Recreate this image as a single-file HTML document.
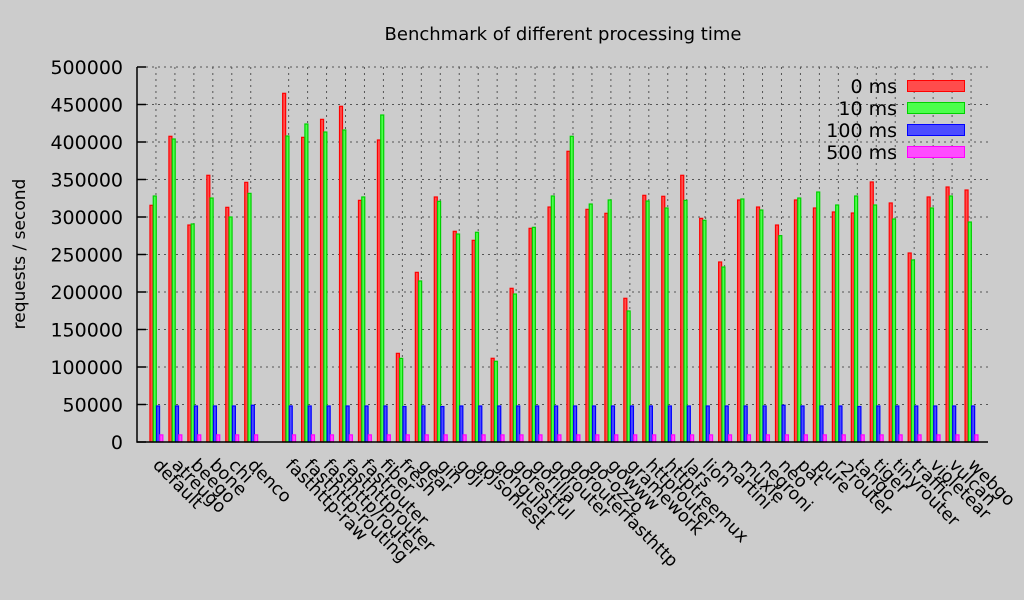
<!DOCTYPE html>
<html><head><meta charset="utf-8"><style>
html,body{margin:0;padding:0;background:#cccccc;}
svg{display:block;font-family:"DejaVu Sans","Liberation Sans",sans-serif;}
</style></head><body>
<svg id="chart" width="1024" height="600" viewBox="0 0 1024 600">
<rect x="0" y="0" width="1024" height="600" fill="#cccccc"/>
<text x="563" y="40" font-size="18" text-anchor="middle" fill="#000">Benchmark of different processing time</text>
<text transform="translate(25,254) rotate(-90)" font-size="17" text-anchor="middle" fill="#000">requests / second</text>
<g id="grid"></g>
<g id="bars"></g>
<g id="axes"></g>
<g id="ylabels"></g>
<g id="xlabels"></g>
<g id="legend"></g>
</svg>
<script>
const categories = ["default","atreugo","beego","bone","chi","denco","","fasthttp-raw","fasthttp-routing","fasthttp/router","fasthttprouter","fastrouter","fiber","fresh","gear","gin","goji","gojsonrest","gongular","gorestful","gorilla","gorouter","gorouterfasthttp","go-ozzo","gowww","gramework","httprouter","httptreemux","lars","lion","martini","muxie","negroni","neo","pat","pure","r2router","tango","tiger","tinyrouter","traffic","violetear","vulcan","webgo"];
const series0ms = [315600,407600,289300,355600,312900,346200,null,464900,406200,430200,447600,322200,402700,118200,226200,326700,280900,268900,111600,204900,284900,313300,387600,310200,304900,191600,328900,327600,355600,298200,240000,322700,313300,289300,322700,312000,306700,305300,346700,318700,252000,326700,340000,336000];
const series10ms = [328000,404000,290700,325300,300000,331500,null,408000,424000,413300,416000,326700,436000,111500,214700,320900,277300,279600,107600,197300,286200,328000,407600,317300,322700,174700,321300,312000,322200,295600,233300,324000,309300,275100,325300,333300,316000,328000,316000,297300,242700,312000,328000,293300];
const series100ms = [48000,48000,48000,48000,48000,49000,null,48000,48000,48000,48000,48000,48000,47300,48000,47300,48000,48000,48000,48000,48000,48000,48000,48000,48000,48000,48000,48000,48000,48000,48000,48000,48000,49000,48000,48000,48000,47300,48000,48000,48000,48000,48000,48000];
const series500ms = [9500,9500,9500,9500,9500,9500,null,9500,9500,9500,9500,9500,9500,9500,9500,9500,9500,9500,9500,9500,9500,9500,9500,9500,9500,9500,9500,9500,9500,9500,9500,9500,9500,9500,9500,9500,9500,9500,9500,9500,9500,9500,9500,9500];
const seriesNames = ["0 ms","10 ms","100 ms","500 ms"];
const yTicks = [0,50000,100000,150000,200000,250000,300000,350000,400000,450000,500000];

const NS="http://www.w3.org/2000/svg";
const L=137,R=990,T=67,B=442,YMAX=500000;
const slot=(R-L)/(categories.length+1);
function xs(i){return L+(i+1)*slot;}
function ys(v){return B-(v/YMAX)*(B-T);}
function mk(tag,attrs,parent){const e=document.createElementNS(NS,tag);for(const k in attrs)e.setAttribute(k,attrs[k]);parent.appendChild(e);return e;}
const grid=document.getElementById('grid'),bars=document.getElementById('bars'),axes=document.getElementById('axes');
const yl=document.getElementById('ylabels'),xl=document.getElementById('xlabels'),lg=document.getElementById('legend');
const fills=["#ff4c4c","#4cff4c","#4c4cff","#ff4cff"],strokes=["#ff0000","#00d000","#0000ff","#ff00ff"];
const allSeries=[series0ms,series10ms,series100ms,series500ms];

yTicks.forEach((t,j)=>{
  const y=ys(t);
  if(t>0){const g=mk('line',{x1:L+9,x2:R,y1:y,y2:y,stroke:'#555',"stroke-width":1,"stroke-dasharray":"2,4"},grid);
  
  }
  const tk=mk('line',{x1:L,x2:L+9,y1:y,y2:y,stroke:'#000',"stroke-width":1.5},axes);
  
  
  const tx=mk('text',{x:123,y:y+7,"font-size":19,"text-anchor":"end",fill:"#000"},yl);
  tx.textContent=String(t);
  
  
});

categories.forEach((c,i)=>{
  if(c==="")return;
  const x=xs(i);
  const g=mk('line',{x1:x,x2:x,y1:T,y2:B,stroke:'#555',"stroke-width":1,"stroke-dasharray":"2,4"},grid);
  
  
  const t=mk('text',{transform:`translate(${x-4},466) rotate(45)`,"font-size":17.5,fill:"#000"},xl);
  t.textContent=c;
  
  
  allSeries.forEach((s,k)=>{
    const v=s[i]; if(v==null)return;
    const bx=x-6+k*3.3, y=ys(v);
    const r=mk('rect',{x:bx,y:y,width:3.0,height:B-y,fill:fills[k],stroke:strokes[k],"stroke-width":1.2},bars);
    
    
  });
});

const ax=mk('path',{d:`M${L} ${T} L${L} ${B} L${R-2} ${B}`,fill:'none',stroke:'#000',"stroke-width":1.5},axes);



seriesNames.forEach((n,k)=>{
  const cy=86+k*22;
  const t=mk('text',{x:897,y:cy+7,"font-size":19,"text-anchor":"end",fill:"#000"},lg);
  t.textContent=n;
  
  
  const r=mk('rect',{x:907.5,y:cy-5.5,width:57,height:11,fill:fills[k],stroke:strokes[k],"stroke-width":1},lg);
  
  
});
</script>
</body></html>
